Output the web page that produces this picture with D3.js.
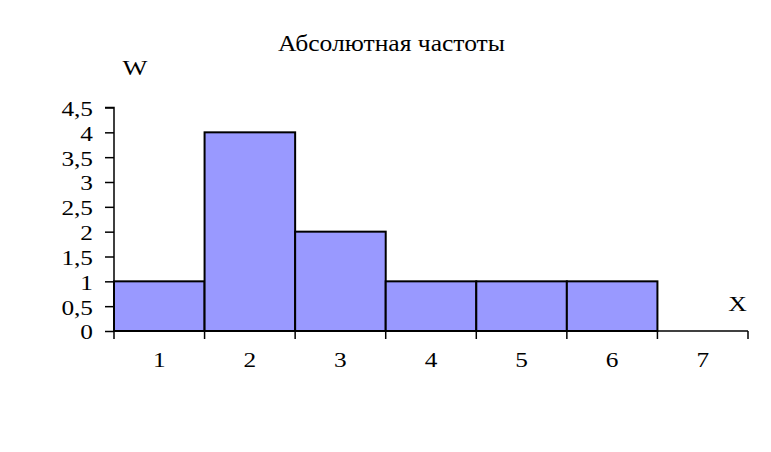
<!DOCTYPE html>
<html><head><meta charset="utf-8">
<script src="https://cdn.jsdelivr.net/npm/d3@7"></script>
<style>body{margin:0;background:#fff}</style>
</head><body>
<script>
const categories = ["1","2","3","4","5","6","7"];
const values = [1,4,2,1,1,1,0];
const yTicks = [0,0.5,1,1.5,2,2.5,3,3.5,4,4.5];
const title = "Абсолютная частоты";

const W = 771, H = 452;
const FONT = "Liberation Serif";
const SX = 1.15; // horizontal stretch of tick text in the reference
const svg = d3.select("body").append("svg").attr("width", W).attr("height", H);

const x = d3.scaleBand().domain(categories).range([114, 748]).padding(0);
const y = d3.scaleLinear().domain([0, 4.5]).range([331, 107.5]);

svg.selectAll("rect.bar").data(values).enter().append("rect")
  .attr("x", (d,i) => x(categories[i]))
  .attr("y", d => y(d))
  .attr("width", x.bandwidth())
  .attr("height", d => y(0) - y(d))
  .attr("fill", d => d > 0 ? "#9999ff" : "none")
  .attr("stroke", d => d > 0 ? "#000" : "none")
  .attr("stroke-width", 2);

// y axis
const ya = svg.append("g").attr("transform", "translate(114,0)")
  .call(d3.axisLeft(y).tickValues(yTicks).tickSize(9).tickPadding(12)
    .tickFormat(d => String(d).replace(".", ",")));
ya.select(".domain").attr("stroke-width", 1.5).attr("d", `M-9,${y(4.5)}H0V${y(0)}`);
ya.selectAll(".tick line").attr("stroke-width", 1.5);
ya.selectAll("text").attr("font-size", 22).attr("font-family", FONT).attr("fill", "#000")
  .attr("x", 0).attr("dy", "0.36em").attr("text-anchor", "end")
  .attr("transform", `translate(-21,0) scale(${SX},1)`);

// x axis
const xa = svg.append("g").attr("transform", `translate(0,${y(0)})`)
  .call(d3.axisBottom(x).tickSize(0).tickPadding(20));
xa.select(".domain").attr("stroke-width", 1.5).attr("d", "M114,0H748");
xa.selectAll("text").attr("font-size", 22).attr("font-family", FONT).attr("fill", "#000")
  .attr("transform", `scale(${SX},1)`);
const bounds = categories.map(c => x(c)).concat([x(categories[categories.length-1]) + x.bandwidth()]);
xa.selectAll("line.sep").data(bounds).enter().append("line").attr("class","sep")
  .attr("x1", d => d).attr("x2", d => d).attr("y1", 0).attr("y2", 8)
  .attr("stroke", "#000").attr("stroke-width", 1.5);

function label(txt, cx, cy, size, sx) {
  svg.append("text").attr("transform", `translate(${cx},${cy}) scale(${sx},1)`)
    .attr("text-anchor", "middle").attr("font-family", FONT)
    .attr("font-size", size).attr("fill", "#000").text(txt);
}
label(title, 391.5, 51, 24, 1.065);
label("W", 135, 75, 22, 1.2);
label("X", 737.5, 311, 22, 1.17);
</script>
</body></html>
